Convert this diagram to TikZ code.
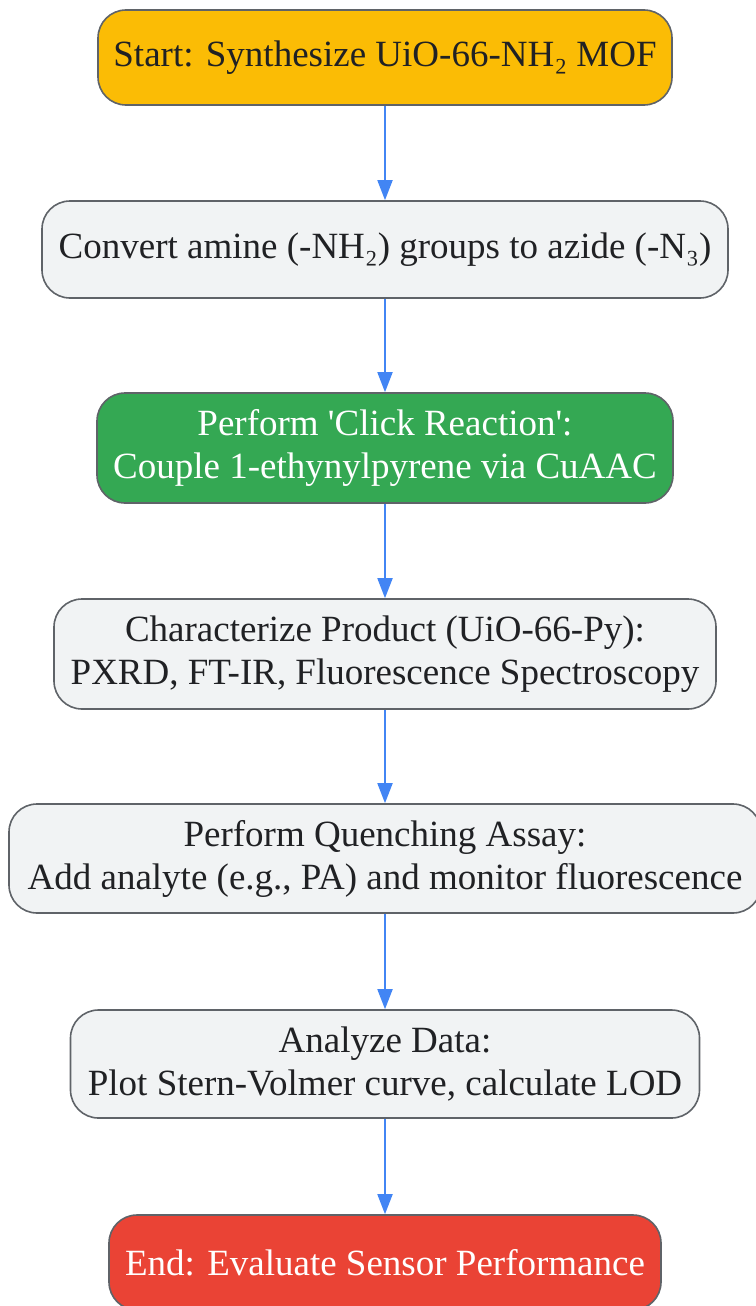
\documentclass[tikz,border=0pt]{standalone}
\usepackage{fontspec}
\setmainfont{Liberation Serif}
\usetikzlibrary{arrows.meta}

\definecolor{startyellow}{HTML}{FBBC05}
\definecolor{stepgray}{HTML}{F1F3F4}
\definecolor{clickgreen}{HTML}{34A853}
\definecolor{endred}{HTML}{EA4335}
\definecolor{edgegray}{HTML}{5F6368}
\definecolor{flowblue}{HTML}{4285F4}
\definecolor{textdark}{HTML}{202124}

\tikzset{
  box/.style={draw=edgegray, line width=1.6pt, rounded corners=28pt, align=center,
    inner sep=0pt, font=\fontsize{37}{43}\selectfont, text=textdark},
  flow/.style={draw=flowblue, line width=1.8pt, -{Triangle[length=20pt,width=15pt]}}
}

\begin{document}
\begin{tikzpicture}[x=1pt,y=-1pt]

            \useasboundingbox (0,0) rectangle (755,1306);

            \node[box, fill=startyellow, minimum width=574pt, minimum height=95pt] (start) at (385,57.5) {Start: Synthesize UiO-66-NH₂ MOF};
            \node[box, fill=stepgray, minimum width=686pt, minimum height=97pt] (convert) at (385,249.5) {Convert amine (-NH₂) groups to azide (-N₃)};
            \node[box, fill=clickgreen, text=white, minimum width=576pt, minimum height=110pt] (click) at (385,448) {Perform \textquotesingle Click Reaction\textquotesingle:\\Couple 1-ethynylpyrene via CuAAC};
            \node[box, fill=stepgray, minimum width=662pt, minimum height=110pt] (charac) at (385,654) {Characterize Product (UiO-66-Py):\\PXRD, FT-IR, Fluorescence Spectroscopy};
            \node[box, fill=stepgray, minimum width=752pt, minimum height=109pt] (quench) at (385,858.5) {Perform Quenching Assay:\\Add analyte (e.g., PA) and monitor fluorescence};
            \node[box, fill=stepgray, minimum width=629pt, minimum height=108pt] (analyze) at (385,1064) {Analyze Data:\\Plot Stern-Volmer curve, calculate LOD};
            \node[box, fill=endred, text=white, minimum width=552pt, minimum height=95pt] (end) at (385,1262.5) {End: Evaluate Sensor Performance};

            \draw[flow] (start) -- (convert);
            \draw[flow] (convert) -- (click);
            \draw[flow] (click) -- (charac);
            \draw[flow] (charac) -- (quench);
            \draw[flow] (quench) -- (analyze);
            \draw[flow] (analyze) -- (end);

\end{tikzpicture}
\end{document}
